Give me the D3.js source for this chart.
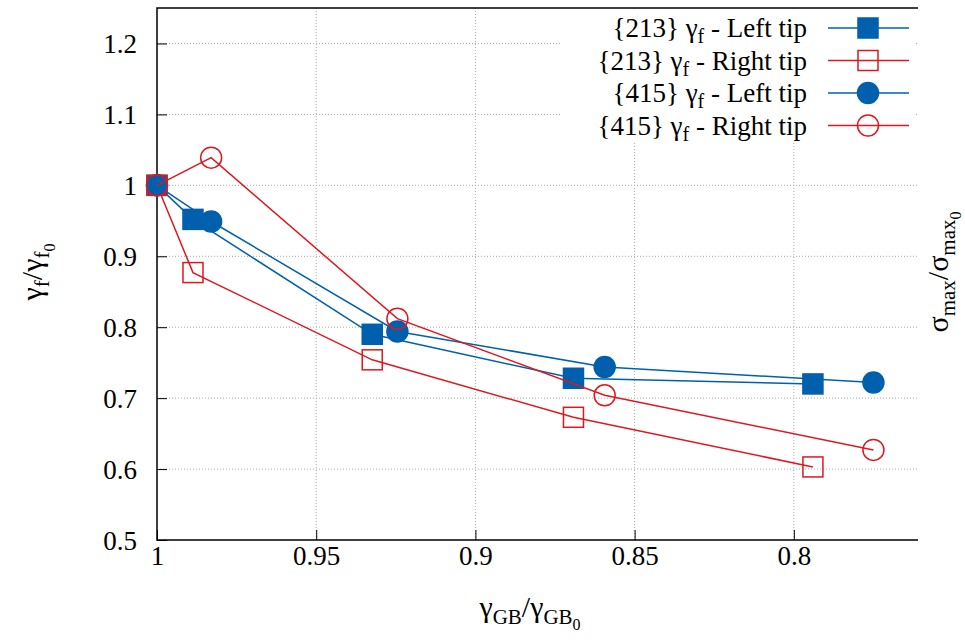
<!DOCTYPE html>
<html>
<head>
<meta charset="utf-8">
<script src="https://cdn.jsdelivr.net/npm/d3@7"></script>
<style>
  body { margin: 0; background: #fff; }
</style>
</head>
<body>
<svg id="svg" width="965" height="643" font-family="Times New Roman, serif"></svg>
<script>
// data
var xTicks = [1, 0.95, 0.9, 0.85, 0.8]
var yTicks = [0.5, 0.6, 0.7, 0.8, 0.9, 1, 1.1, 1.2]

var x213 = [1, 0.9887, 0.9324, 0.8692, 0.794]
var left213 = [1, 0.952, 0.790, 0.728, 0.720]
var right213 = [1, 0.877, 0.754, 0.673, 0.603]

var x415 = [1, 0.983, 0.9245, 0.8594, 0.775]
var left415 = [1, 0.949, 0.794, 0.744, 0.722]
var right415 = [1, 1.039, 0.812, 0.704, 0.627]

var seriesNames = ["{213}", "{213}", "{415}", "{415}"]
var seriesTips = [" - Left tip", " - Right tip", " - Left tip", " - Right tip"]

var blue = "#0060ad", red = "#dd181f"
var FONT = "Times New Roman"

var series = [
  {xs: x213, ys: left213, color: blue, marker: "square", fill: true},
  {xs: x213, ys: right213, color: red, marker: "square", fill: false},
  {xs: x415, ys: left415, color: blue, marker: "circle", fill: true},
  {xs: x415, ys: right415, color: red, marker: "circle", fill: false}
]

var svg = d3.select("#svg")
var L = 157, R = 918, T = 8, B = 540

var x = d3.scaleLinear().domain([1, 0.761]).range([L, R])
var y = d3.scaleLinear().domain([0.5, 1.25]).range([B, T])

// grid
var grid = svg.append("g")
grid.selectAll(".gx").data(xTicks.slice(1)).enter().append("line")
  .attr("x1", d => x(d)).attr("x2", d => x(d)).attr("y1", T).attr("y2", B)
  .attr("stroke", "#aaa").attr("stroke-width", 1).attr("stroke-dasharray", "1,2")
grid.selectAll(".gy").data(yTicks.slice(1)).enter().append("line")
  .attr("x1", L).attr("x2", R).attr("y1", d => y(d)).attr("y2", d => y(d))
  .attr("stroke", "#aaa").attr("stroke-width", 1).attr("stroke-dasharray", "1,2")

// axes
var xAxis = d3.axisBottom(x).tickValues(xTicks).tickSize(-10).tickPadding(6).tickFormat(d3.format("~g"))
var yAxis = d3.axisLeft(y).tickValues(yTicks).tickSize(-10).tickPadding(20).tickFormat(d3.format("~g"))

var gx = svg.append("g").attr("transform", "translate(0," + B + ")").call(xAxis)
var gy = svg.append("g").attr("transform", "translate(" + L + ",0)").call(yAxis)
gx.select(".domain").remove()
gy.select(".domain").remove()
gx.attr("font-family", FONT).attr("font-size", 27)
gy.attr("font-family", FONT).attr("font-size", 27)
gx.selectAll("text").attr("fill", "#000").attr("dy", "0.71em")
gy.selectAll("text").attr("fill", "#000").attr("dy", "0.35em")
svg.selectAll(".tick line").attr("stroke", "#000").attr("stroke-width", 1)

// border: left, top, bottom
svg.append("path").attr("d", `M${R},${T}H${L}V${B}H${R}`)
  .attr("fill", "none").attr("stroke", "#000").attr("stroke-width", 1.5)

// series
var line = d3.line().x(d => x(d[0])).y(d => y(d[1]))
var marks = svg.append("g")

function drawMarker(g, cx, cy, s) {
  if (s.marker === "square") {
    g.append("rect").attr("x", cx - 10).attr("y", cy - 10).attr("width", 20).attr("height", 20)
      .attr("fill", s.fill ? s.color : "none").attr("stroke", s.color).attr("stroke-width", 1.5)
  } else {
    g.append("circle").attr("cx", cx).attr("cy", cy).attr("r", 10.5)
      .attr("fill", s.fill ? s.color : "none").attr("stroke", s.color).attr("stroke-width", 1.5)
  }
}

series.forEach(s => {
  var pts = s.xs.map((v, i) => [v, s.ys[i]])
  marks.append("path").datum(pts).attr("d", line)
    .attr("fill", "none").attr("stroke", s.color).attr("stroke-width", 1.5)
  pts.forEach(p => drawMarker(marks, x(p[0]), y(p[1]), s))
})

// legend
var leg = svg.append("g")
leg.append("rect").attr("x", 560).attr("y", 11).attr("width", R - 562).attr("height", 130).attr("fill", "#fff")
series.forEach((s, i) => {
  var ly = 28 + i * 32.5
  var t = leg.append("text").attr("x", 807).attr("y", ly + 9)
    .attr("text-anchor", "end").attr("font-size", 27).attr("font-family", FONT)
  t.append("tspan").text(seriesNames[i] + " \u03b3")
  t.append("tspan").attr("font-size", 20).attr("dy", 6).text("f")
  t.append("tspan").attr("dy", -6).text(seriesTips[i])
  leg.append("line").attr("x1", 828).attr("x2", 909).attr("y1", ly).attr("y2", ly)
    .attr("stroke", s.color).attr("stroke-width", 1.5)
  drawMarker(leg, 868, ly, s)
})

// axis titles
function title(tr, parts) {
  var t = svg.append("text").attr("transform", tr).attr("text-anchor", "middle")
    .attr("font-size", 30).attr("font-family", FONT)
  t.append("tspan").text(parts[0])
  t.append("tspan").attr("font-size", 21).attr("dy", 7).text(parts[1])
  t.append("tspan").attr("dy", -7).text("/" + parts[0])
  t.append("tspan").attr("font-size", 21).attr("dy", 7).text(parts[1])
  t.append("tspan").attr("font-size", 16).attr("dy", 6).text("0")
}
title("translate(530,617)", ["\u03b3", "GB"])
title("translate(42,272) rotate(-90)", ["\u03b3", "f"])
title("translate(948,272) rotate(-90)", ["\u03c3", "max"])
</script>
</body>
</html>
